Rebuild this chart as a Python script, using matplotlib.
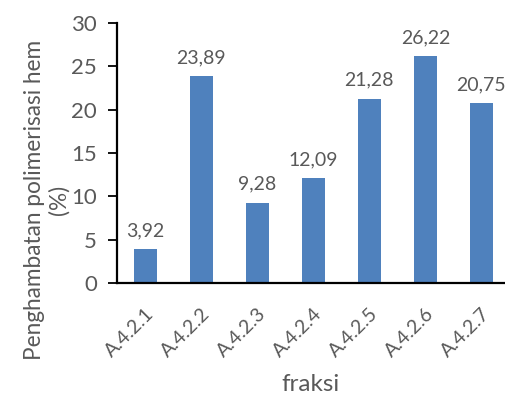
import matplotlib.pyplot as plt

# nilai penghambatan tiap fraksi
fraksi = ["A.4.2.1", "A.4.2.2", "A.4.2.3", "A.4.2.4", "A.4.2.5", "A.4.2.6", "A.4.2.7"]
hambatan = [3.92, 23.89, 9.28, 12.09, 21.28, 26.22, 20.75]

plt.rcParams['font.family'] = ['Lato', 'DejaVu Sans']
abu = '#595959'

fig = plt.figure(figsize=(5.05, 3.95), dpi=100)
ax = fig.add_axes([117 / 505, 1 - 283 / 395, (505 - 117) / 505, 260 / 395])

x = list(range(len(fraksi)))
ax.bar(x, hambatan, width=0.41, color='#4F81BD', zorder=2)

for xi, v in zip(x, hambatan):
    ax.annotate(f"{v:.2f}".replace('.', ','), (xi, v), xytext=(0, 7),
                textcoords='offset points', ha='center', va='bottom',
                fontsize=14, color=abu)

ax.set_xlim(-0.5, 6.42)
ax.set_ylim(0, 30)
ax.set_yticks(range(0, 31, 5))
ax.set_xticks(x)
ax.set_xticklabels(fraksi, rotation=45, ha='right', rotation_mode='anchor')

for s in ['top', 'right']:
    ax.spines[s].set_visible(False)
ax.spines['left'].set_linewidth(1.6)
ax.spines['bottom'].set_linewidth(1.6)
ax.tick_params(axis='y', labelsize=16, labelcolor=abu, length=6.5, width=1.3, pad=8)
ax.tick_params(axis='x', labelsize=14, labelcolor=abu, length=0, pad=16)

# judul sumbu y digeser sedikit ke bawah seperti di Excel
fig.text(47 / 505, 1 - 200 / 395, "Penghambatan polimerisasi hem\n(%)",
         rotation=90, ha='center', va='center', multialignment='center',
         fontsize=16.3, color=abu, linespacing=1.15)
ax.set_xlabel("fraksi", fontsize=17.5, color=abu, labelpad=10)

fig.savefig('out.png', dpi=100)
